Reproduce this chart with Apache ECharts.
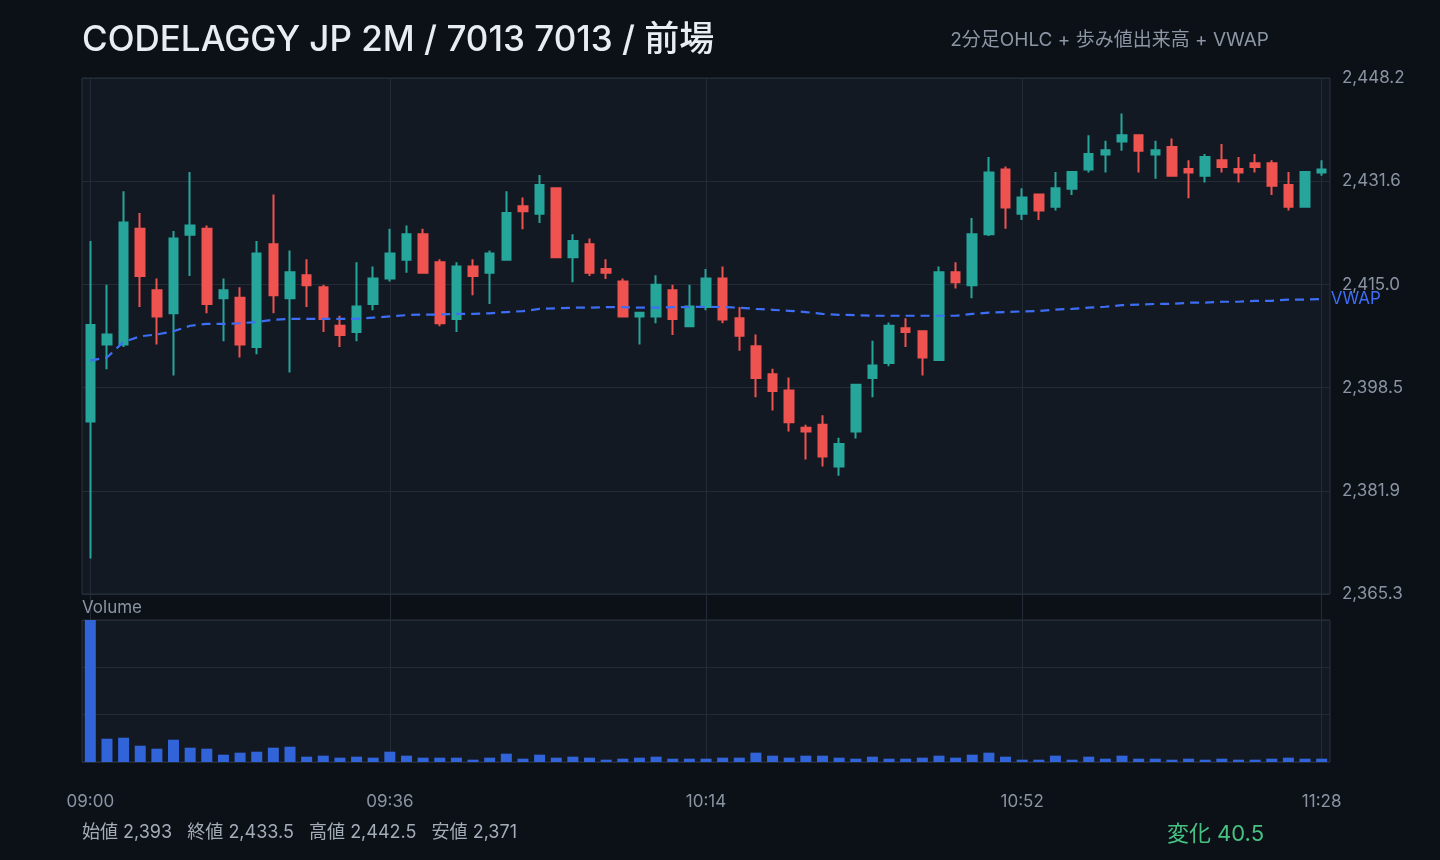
<!DOCTYPE html>
<html>
<head>
<meta charset="utf-8">
<title>CODELAGGY JP 2M</title>
<script src="https://cdn.jsdelivr.net/npm/echarts@6/dist/echarts.min.js"></script>
<style>
  html, body { margin: 0; padding: 0; background: #0c1017; }
  #chart { width: 1440px; height: 860px; }
</style>
</head>
<body>
<div id="chart"></div>
<script>
// 2分足の時刻
const times = [
  '09:00','09:02','09:04','09:06','09:08','09:10','09:12','09:14','09:16','09:18',
  '09:20','09:22','09:24','09:26','09:28','09:30','09:32','09:34','09:36','09:38',
  '09:40','09:42','09:44','09:46','09:48','09:50','09:52','09:54','09:56','09:58',
  '10:00','10:02','10:04','10:06','10:08','10:10','10:12','10:14','10:16','10:18',
  '10:20','10:22','10:24','10:26','10:28','10:30','10:32','10:34','10:36','10:38',
  '10:40','10:42','10:44','10:46','10:48','10:50','10:52','10:54','10:56','10:58',
  '11:00','11:02','11:04','11:06','11:08','11:10','11:12','11:14','11:16','11:18',
  '11:20','11:22','11:24','11:26','11:28'
];
// 軸に出す時刻
const labelTimes = ['09:00', '09:36', '10:14', '10:52', '11:28'];

// OHLC
const open = [
  2393, 2405.4, 2405.4, 2424.0, 2414.1, 2410.4, 2423.0, 2424.0, 2412.8, 2412.9,
  2405.0, 2421.5, 2412.8, 2416.5, 2414.6, 2408.4, 2407.4, 2411.9, 2416.0, 2419.0,
  2423.1, 2418.6, 2409.5, 2417.9, 2416.9, 2419.0, 2427.6, 2426.4, 2430.5, 2419.4,
  2421.5, 2417.5, 2415.5, 2409.9, 2409.9, 2414.1, 2408.3, 2411.4, 2416.0, 2409.6,
  2405.1, 2400.6, 2398.0, 2392.0, 2392.5, 2385.8, 2391.4, 2400.0, 2402.4, 2408.0,
  2407.5, 2402.9, 2417.0, 2414.9, 2423.1, 2433.5, 2426.4, 2429.5, 2427.5, 2430.4,
  2433.5, 2435.9, 2438.0, 2439.0, 2435.9, 2437.1, 2433.6, 2432.5, 2435.0, 2433.6,
  2434.5, 2434.5, 2431.0, 2427.5, 2433.0
];
const close = [
  2408.5, 2407.0, 2425.0, 2416.4, 2409.9, 2422.4, 2424.5, 2411.9, 2414.1, 2405.4,
  2420.0, 2413.3, 2417.0, 2414.9, 2409.5, 2406.9, 2411.5, 2416.0, 2420.0, 2423.1,
  2416.9, 2408.8, 2417.9, 2416.4, 2420.0, 2426.5, 2426.8, 2431.0, 2419.4, 2422.0,
  2416.9, 2416.9, 2409.9, 2410.5, 2415.0, 2409.5, 2411.5, 2416.0, 2409.4, 2406.8,
  2400.0, 2397.9, 2392.9, 2391.4, 2387.4, 2389.4, 2398.9, 2402.0, 2408.4, 2407.4,
  2403.3, 2417.0, 2415.4, 2423.1, 2433.0, 2427.4, 2429.0, 2426.9, 2430.5, 2433.1,
  2436.0, 2436.6, 2439.0, 2436.5, 2436.6, 2432.5, 2433.0, 2435.5, 2433.9, 2433.0,
  2433.9, 2430.9, 2427.5, 2433.1, 2433.5
];
const low = [
  2371, 2401.4, 2405.0, 2411.4, 2405.4, 2400.4, 2416.4, 2410.4, 2405.9, 2403.3,
  2403.8, 2410.4, 2400.9, 2411.4, 2407.4, 2405.0, 2405.9, 2410.9, 2415.5, 2416.9,
  2416.9, 2408.3, 2407.4, 2413.3, 2411.9, 2419.0, 2423.9, 2424.9, 2419.3, 2415.4,
  2416.4, 2415.9, 2409.9, 2405.4, 2408.8, 2406.9, 2408.3, 2410.9, 2408.8, 2404.4,
  2396.9, 2394.8, 2391.4, 2386.9, 2385.8, 2384.3, 2390.3, 2396.9, 2401.9, 2405.0,
  2400.4, 2402.9, 2414.4, 2412.8, 2422.8, 2424.0, 2425.4, 2425.4, 2426.9, 2429.4,
  2433.0, 2433.0, 2436.5, 2433.0, 2432.0, 2432.5, 2428.9, 2431.4, 2433.0, 2431.4,
  2433.0, 2429.4, 2426.9, 2427.5, 2432.5
];
const high = [
  2422.0, 2415.0, 2430.0, 2426.5, 2416.0, 2423.6, 2433.1, 2424.5, 2416.0, 2414.6,
  2422.0, 2429.5, 2420.5, 2419.1, 2415.0, 2410.0, 2418.6, 2417.9, 2424.0, 2424.5,
  2424.0, 2419.1, 2418.6, 2419.1, 2420.5, 2430.0, 2429.0, 2432.6, 2430.6, 2423.1,
  2422.4, 2419.1, 2416.0, 2410.5, 2416.5, 2415.0, 2415.0, 2417.5, 2417.9, 2411.4,
  2407.0, 2401.5, 2400.1, 2392.5, 2394.0, 2390.4, 2398.9, 2406.0, 2408.9, 2409.6,
  2407.5, 2417.9, 2418.6, 2425.7, 2435.5, 2434.0, 2430.5, 2429.5, 2433.1, 2433.1,
  2439.0, 2438.1, 2442.5, 2439.0, 2438.1, 2438.5, 2435.0, 2436.0, 2437.6, 2435.5,
  2436.0, 2435.0, 2433.1, 2433.1, 2435.0
];
// 歩み値出来高
const volume = [
  42700, 7000, 7300, 4900, 4000, 6700, 4300, 4000, 2200, 2800,
  3100, 4300, 4600, 1600, 1900, 1300, 1600, 1300, 3100, 1900,
  1300, 1300, 1300, 700, 1300, 2500, 1000, 2200, 1300, 1600,
  1300, 700, 1000, 1300, 1600, 1000, 1000, 1000, 1300, 1300,
  2800, 1900, 1300, 1900, 1900, 1300, 1000, 1600, 1000, 1000,
  1300, 1900, 1300, 2200, 2800, 1600, 700, 700, 1900, 700,
  1600, 1000, 1900, 1000, 1000, 700, 1000, 700, 1000, 700,
  700, 1000, 1300, 1000, 1000
];
// VWAP
const vwap = [
  2402.8, 2403.3, 2405.8, 2406.7, 2407.0, 2407.5, 2408.4, 2408.7, 2408.7, 2408.8,
  2409.0, 2409.35, 2409.5, 2409.5, 2409.5, 2409.5, 2409.5, 2409.7, 2409.9, 2410.1,
  2410.2, 2410.2, 2410.3, 2410.3, 2410.4, 2410.6, 2410.75, 2411.1, 2411.2, 2411.3,
  2411.3, 2411.4, 2411.4, 2411.3, 2411.3, 2411.4, 2411.4, 2411.45, 2411.4, 2411.3,
  2411.1, 2410.96, 2410.8, 2410.6, 2410.3, 2410.15, 2410.1, 2410.0, 2410.0, 2410.0,
  2410.0, 2410.0, 2410.0, 2410.3, 2410.5, 2410.6, 2410.7, 2410.75, 2411.0, 2411.1,
  2411.3, 2411.45, 2411.7, 2411.8, 2411.9, 2411.9, 2412.1, 2412.1, 2412.25, 2412.25,
  2412.4, 2412.4, 2412.6, 2412.6, 2412.7
];
// 価格軸
const priceMin = 2365.3;
const priceMax = 2448.2;

const FONT = 'Inter, "Noto Sans CJK JP", sans-serif';
const UP = '#26a69a';
const DOWN = '#ef5350';
const AXIS_TEXT = '#8a94a2';
const GRID_LINE = '#232b36';

const fmt = (v) => v.toLocaleString('en-US', { maximumFractionDigits: 1 });
const fmt1 = (v) => v.toLocaleString('en-US', { minimumFractionDigits: 1, maximumFractionDigits: 1 });

// サマリー
const first = open[0];
const last = close[close.length - 1];
const hi = Math.max(...high);
const lo = Math.min(...low);
const change = last - first;
const summary = `始値 ${fmt(first)}   終値 ${fmt(last)}   高値 ${fmt(hi)}   安値 ${fmt(lo)}`;

const showTime = (index, value) => labelTimes.includes(value);
const volMax = Math.max(...volume);

const xSplit = {
  show: true,
  interval: showTime,
  alignWithLabel: true,
  lineStyle: { color: GRID_LINE, width: 1 }
};

const chart = echarts.init(document.getElementById('chart'));

const option = {
  backgroundColor: '#0c1017',
  animation: false,
  textStyle: { fontFamily: FONT },
  title: [
    {
      text: 'CODELAGGY JP 2M / 7013 7013 / 前場',
      left: 82, top: 23, padding: 0,
      textStyle: { color: '#e8edf3', fontSize: 35, fontWeight: 500, fontFamily: FONT }
    },
    {
      text: '2分足OHLC + 歩み値出来高 + VWAP',
      right: 171, top: 31, padding: 0,
      textStyle: { color: '#8c96a4', fontSize: 19, fontWeight: 'normal', fontFamily: FONT }
    },
    {
      text: 'Volume',
      left: 82, top: 599, padding: 0,
      textStyle: { color: AXIS_TEXT, fontSize: 17, fontWeight: 'normal', fontFamily: FONT }
    },
    {
      text: summary,
      left: 82, top: 824, padding: 0,
      textStyle: { color: '#a4acb8', fontSize: 18, fontWeight: 'normal', fontFamily: FONT }
    },
    {
      text: '変化 ' + change.toFixed(1),
      right: 176, top: 823, padding: 0,
      textStyle: { color: '#47c283', fontSize: 22, fontWeight: 'normal', fontFamily: FONT }
    }
  ],
  grid: [
    { left: 82, right: 110, top: 78, height: 516, show: true, backgroundColor: '#121922', borderColor: '#2a323d', borderWidth: 1 },
    { left: 82, right: 110, top: 620, height: 142, show: true, backgroundColor: '#121922', borderColor: '#2a323d', borderWidth: 1 },
    { left: 82, right: 110, top: 594, height: 26, show: false }
  ],
  xAxis: [
    {
      type: 'category', gridIndex: 0, data: times, boundaryGap: true,
      axisLine: { show: false }, axisTick: { show: false }, axisLabel: { show: false },
      splitLine: xSplit
    },
    {
      type: 'category', gridIndex: 1, data: times, boundaryGap: true,
      axisLine: { show: false }, axisTick: { show: false },
      axisLabel: { show: true, interval: showTime, margin: 31, color: AXIS_TEXT, fontSize: 17, fontFamily: FONT },
      splitLine: xSplit
    },
    {
      type: 'category', gridIndex: 2, data: times, boundaryGap: true,
      axisLine: { show: false }, axisTick: { show: false }, axisLabel: { show: false },
      splitLine: xSplit
    }
  ],
  yAxis: [
    {
      type: 'value', gridIndex: 0, position: 'right',
      min: priceMin, max: priceMax,
      interval: Math.round((priceMax - priceMin) / 5 * 100) / 100,
      axisLine: { show: false }, axisTick: { show: false },
      axisLabel: { margin: 12, color: AXIS_TEXT, fontSize: 17, fontFamily: FONT, formatter: fmt1 },
      splitLine: { lineStyle: { color: GRID_LINE, width: 1 } }
    },
    {
      type: 'value', gridIndex: 1, min: 0, max: volMax, interval: volMax / 3,
      axisLine: { show: false }, axisTick: { show: false }, axisLabel: { show: false },
      splitLine: { lineStyle: { color: GRID_LINE, width: 1 } }
    },
    { type: 'value', gridIndex: 2, show: false, splitLine: { show: false } }
  ],
  series: [
    {
      name: 'OHLC', type: 'candlestick', xAxisIndex: 0, yAxisIndex: 0,
      barWidth: 9,
      data: times.map((t, i) => [open[i], close[i], low[i], high[i]]),
      itemStyle: { color: UP, color0: DOWN, borderColor: UP, borderColor0: DOWN, borderWidth: 2 }
    },
    {
      name: 'VWAP', type: 'line', xAxisIndex: 0, yAxisIndex: 0,
      data: vwap, symbol: 'none', z: 5,
      lineStyle: { color: '#3d6ef5', width: 2.2, type: [9, 6] },
      endLabel: { show: true, formatter: 'VWAP', color: '#3d6ef5', fontSize: 17, distance: 9, fontFamily: FONT }
    },
    {
      name: 'Volume', type: 'bar', xAxisIndex: 1, yAxisIndex: 1,
      barWidth: 11, data: volume,
      itemStyle: { color: '#3264d9' }
    }
  ]
};

chart.setOption(option);
</script>
</body>
</html>
